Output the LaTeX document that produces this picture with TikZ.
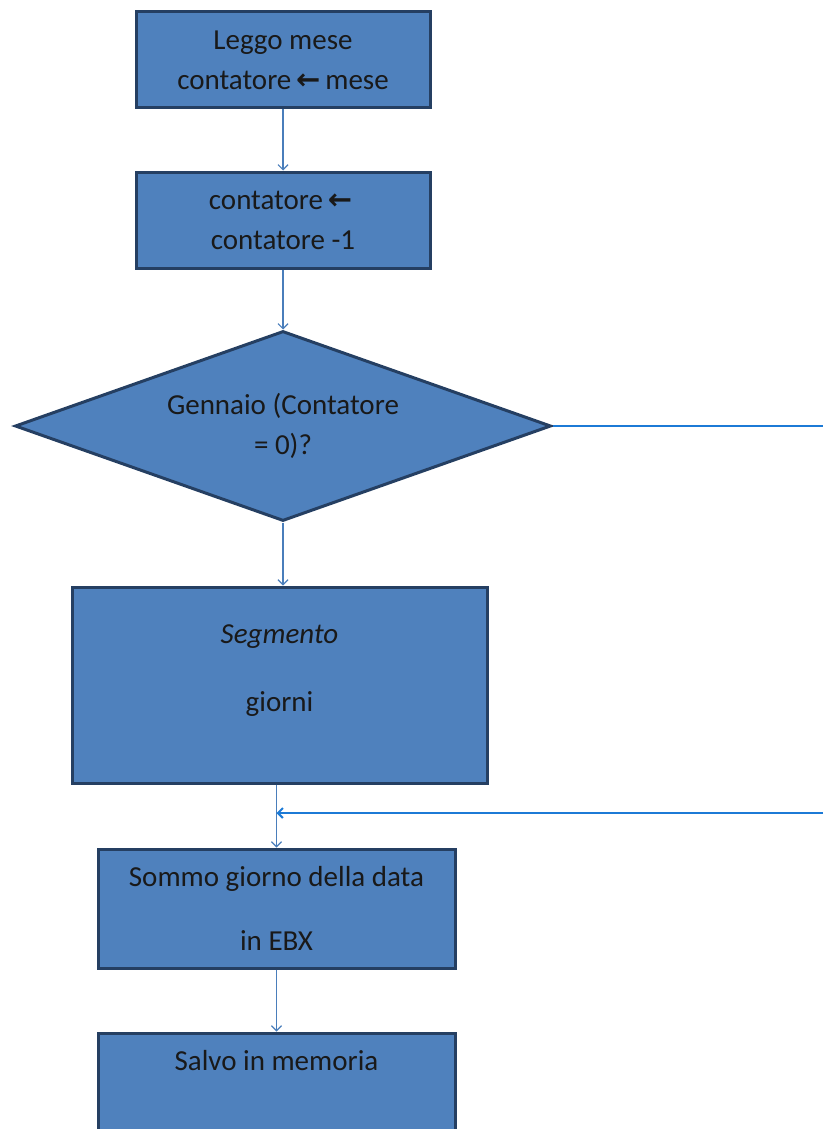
\documentclass[tikz,border=0pt]{standalone}
\usepackage{fontspec}
\setmainfont{Carlito}
\newfontfamily\arrowfont{DejaVu Sans}
\usetikzlibrary{arrows.meta,positioning,shapes.geometric}
\definecolor{boxfill}{HTML}{4F81BD}
\definecolor{boxline}{HTML}{253F62}
\definecolor{flowline}{HTML}{4A7EBB}
\definecolor{loopline}{HTML}{1C7AD6}
\newcommand{\assign}{\,{\arrowfont\bfseries ←}\,}

\begin{document}
\begin{tikzpicture}[
  x=1pt,y=1pt,
  block/.style={draw=boxline,line width=3pt,fill=boxfill,align=center,minimum width=294pt,minimum height=96pt,inner sep=4pt,font=\fontsize{29}{40}\selectfont,text=black!90},
  test/.style={block,diamond,aspect=2.84,minimum width=536pt,minimum height=190pt,inner sep=0pt},
  flow/.style={-{Straight Barb[length=5pt,width=10pt]},line width=1.2pt,flowline},
  loop/.style={line width=2pt,loopline}
]
\useasboundingbox (0,0) rectangle (823,-1129);
\node[block] (read) at (283,-60) {Leggo mese\\contatore\assign mese};
\node[block,below=61pt of read] (dec1) {contatore\assign\\contatore -1};
\draw[flow] (read) -- (dec1);
\node[test,below=60pt of dec1] (jan) {Gennaio (Contatore\\= 0)?};
\draw[flow] (dec1) -- (jan);
\node[block,below=63pt of jan,xshift=-3.5pt,minimum width=415pt,minimum height=196pt] (seg) {\textit{Segmento}\\[28pt]giorni\\[-6pt]\mbox{}};
\draw[flow] (jan.south) -- (jan.south |- seg.north);
\node[block,below=63pt of seg,xshift=-3pt,minimum width=357pt,minimum height=119pt] (sum) {Sommo giorno della data\\[24pt]in EBX};
\draw[flow] (seg.south -| sum.north) -- (sum.north);
\coordinate (back) at (823,-813);
\draw[flow,loop] (back) -- (back -| sum.north);
\draw[loop] (jan.east) -- (jan.east -| back);
\node[block,below=62pt of sum,minimum width=357pt,minimum height=119pt] (save) {Salvo in memoria\\[24pt]\mbox{}};
\draw[flow] (sum) -- (save);
\end{tikzpicture}
\end{document}
